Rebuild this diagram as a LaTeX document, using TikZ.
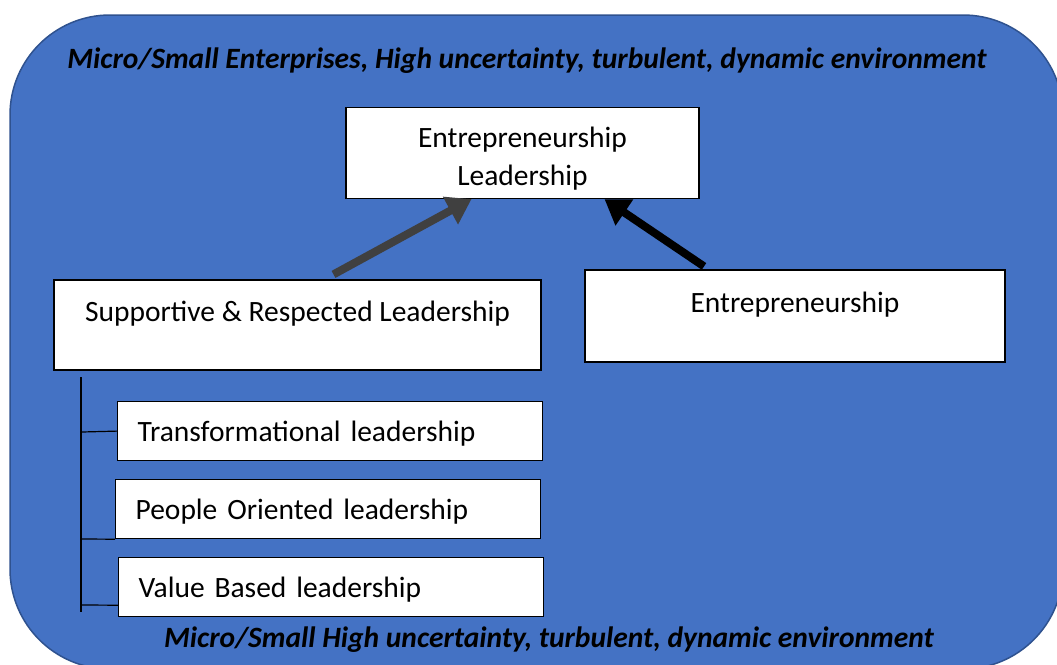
\documentclass[tikz,border=0pt]{standalone}
\usepackage{fontspec}
\setmainfont{Carlito}
\usetikzlibrary{arrows.meta}
\definecolor{envblue}{HTML}{4472C4}
\definecolor{envedge}{HTML}{2F528F}
\definecolor{arrowgray}{HTML}{404040}

\begin{document}
\begin{tikzpicture}[x=1pt, y=-1pt,
    box/.style={draw=black, line width=1.2pt, fill=white, inner sep=0pt, align=center,
        font=\fontsize{29.5}{32}\selectfont},
    subbox/.style={box, anchor=north west, minimum height=59, text width=385, inner xsep=20,
        align=left},
    envtext/.style={font=\fontsize{29.5}{32}\selectfont\bfseries\itshape},
    bigarrow/.style={line width=8pt, -{Triangle[length=24pt, width=30pt]}}]
    \useasboundingbox (0,0) rectangle (1057,664);

    % Draw the environment
    \draw[fill=envblue, draw=envedge, line width=1.5pt, rounded corners=100] (10,15) rectangle (1063,669);
    \node[envtext] (envtop) at (527,61) {Micro/Small Enterprises, High uncertainty, turbulent, dynamic environment};
    \node[envtext] (envbot) at (549,640) {Micro/Small High uncertainty, turbulent, dynamic environment};

    % Boxes
    \node[box, minimum width=353, minimum height=91, font=\fontsize{29.5}{38}\selectfont]
        (entlead) at (522.5,153) {\rule{0pt}{32pt}Entrepreneurship\\Leadership};
    \node[box, minimum width=487, minimum height=90] (supp) at (297.5,325)
        {\rule{0pt}{34pt}Supportive \& Respected Leadership\\ \strut};
    \node[box, minimum width=420, minimum height=92] (entre) at (795,316)
        {\rule{0pt}{34pt}Entrepreneurship\\ \strut};
    \node[subbox] (trans) at (117,401) {\rule{0pt}{26pt}Transformational leadership};
    \node[subbox] (people) at (115,479) {\rule{0pt}{26pt}People Oriented leadership};
    \node[subbox] (value) at (118,557) {\rule{0pt}{26pt}Value Based leadership};

    % Arrows
    \draw[bigarrow, arrowgray] ([xshift=36, yshift=5]supp.north) -- ([xshift=-51]entlead.south);
    \draw[bigarrow, black] ([xshift=-91, yshift=3]entre.north) -- ([xshift=82]entlead.south);

    % Bracket
    \coordinate (bartop) at (81,377);
    \coordinate (barbot) at (81,612);
    \draw[line width=1.2pt] (bartop) -- (barbot);
    \draw[line width=1.2pt] (82,432) -- (trans.west);
    \draw[line width=1.2pt] (82,539) -- (people.south west);
    \draw[line width=1.2pt] (82,605) -- ([yshift=12]value.south west);
\end{tikzpicture}
\end{document}
